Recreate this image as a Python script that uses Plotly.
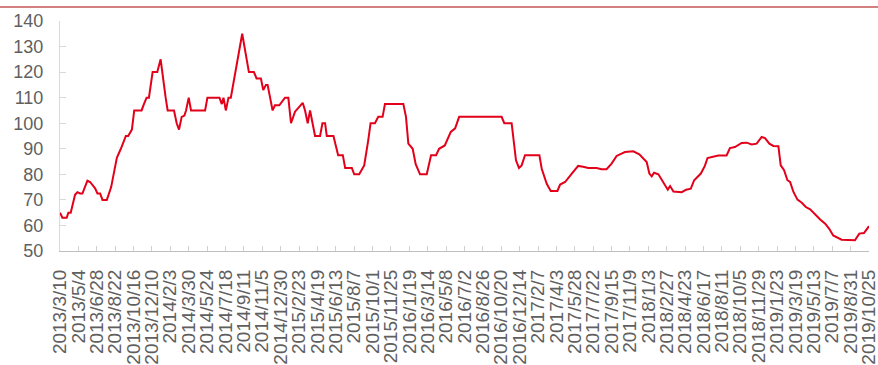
import pandas as pd
import plotly.graph_objects as go

# Observation dates and price index values
dates = [
    "2013-03-10", "2013-03-17", "2013-03-30", "2013-04-04", "2013-04-11", "2013-04-24", "2013-05-01",
    "2013-05-09", "2013-05-16", "2013-05-31", "2013-06-08", "2013-06-18", "2013-06-23", "2013-06-30",
    "2013-07-08", "2013-07-15", "2013-07-28", "2013-08-10", "2013-08-19", "2013-08-27", "2013-09-08",
    "2013-09-23", "2013-09-30", "2013-10-11", "2013-10-18", "2013-11-09", "2013-11-16", "2013-11-24",
    "2013-12-01", "2013-12-12", "2013-12-26",
    "2014-01-05", "2014-01-20", "2014-01-26", "2014-02-14", "2014-02-22", "2014-03-01", "2014-03-09",
    "2014-03-17", "2014-03-22", "2014-03-30", "2014-04-06", "2014-05-18", "2014-05-25", "2014-06-30",
    "2014-07-07", "2014-07-12", "2014-07-19", "2014-07-27", "2014-08-03", "2014-09-06", "2014-09-26",
    "2014-10-11", "2014-10-19", "2014-11-01", "2014-11-08", "2014-11-16", "2014-11-21", "2014-12-06",
    "2014-12-13", "2014-12-26",
    "2015-01-12", "2015-01-22", "2015-01-30", "2015-02-11", "2015-02-21", "2015-03-06", "2015-03-13",
    "2015-03-21", "2015-03-28", "2015-04-12", "2015-04-27", "2015-05-04", "2015-05-12", "2015-05-17",
    "2015-06-06", "2015-06-20", "2015-07-04", "2015-07-11", "2015-07-31", "2015-08-07", "2015-08-22",
    "2015-08-31", "2015-09-06", "2015-09-18", "2015-09-25", "2015-10-08", "2015-10-18", "2015-10-31",
    "2015-11-07",
    "2016-01-01", "2016-01-09", "2016-01-16", "2016-01-29", "2016-02-07", "2016-02-20", "2016-03-11",
    "2016-03-24", "2016-04-08", "2016-04-17", "2016-05-04", "2016-05-22", "2016-06-04", "2016-06-16",
    "2016-10-21", "2016-10-29", "2016-11-20", "2016-11-25", "2016-12-03", "2016-12-12", "2016-12-20",
    "2016-12-30",
    "2017-02-11", "2017-02-18", "2017-03-05", "2017-03-17", "2017-04-06", "2017-04-14", "2017-04-29",
    "2017-05-19", "2017-06-07", "2017-06-22", "2017-07-07", "2017-08-01", "2017-08-16", "2017-08-31",
    "2017-09-15", "2017-09-30", "2017-10-12", "2017-10-25", "2017-11-19", "2017-12-07", "2017-12-29",
    "2018-01-06", "2018-01-13", "2018-01-20", "2018-02-02", "2018-02-17", "2018-03-02", "2018-03-09",
    "2018-03-19", "2018-04-13", "2018-04-26", "2018-05-10", "2018-05-20", "2018-06-09", "2018-06-21",
    "2018-06-29", "2018-07-16", "2018-07-31", "2018-08-25", "2018-09-04", "2018-09-19", "2018-10-09",
    "2018-10-24", "2018-11-08", "2018-11-23", "2018-12-08", "2018-12-18", "2018-12-31",
    "2019-01-12", "2019-01-27", "2019-02-03", "2019-02-13", "2019-02-23", "2019-03-03", "2019-03-13",
    "2019-03-25", "2019-04-07", "2019-04-19", "2019-05-02", "2019-05-17", "2019-06-01", "2019-06-16",
    "2019-06-28", "2019-07-10", "2019-07-25", "2019-08-04", "2019-09-13", "2019-09-26", "2019-10-10",
    "2019-10-25",
]

values = [
    65, 63, 63, 65, 65, 72, 73,
    72.5, 72.5, 77.5, 77, 75, 74.5, 72.5,
    72.5, 70, 70, 75, 82, 86.5, 90,
    95, 95, 97.5, 105, 105, 107.5, 110,
    110, 120, 120,
    125, 110, 105, 105, 100, 97.5, 102.5,
    103, 105, 110, 105, 105, 110, 110,
    107.5, 110, 105, 110, 110, 135, 120,
    120, 117.5, 117.5, 113, 115, 115, 105,
    107, 107,
    110, 110, 100, 104.5, 106, 108, 105,
    100, 105, 95, 95, 100, 100, 95,
    95, 87.5, 87.5, 82.5, 82.5, 80, 80,
    82.5, 83.5, 93.3, 100, 100, 102.5, 102.5,
    107.5,
    107.5, 102.5, 92, 90, 84, 80, 80,
    87.5, 87.5, 90, 91.3, 96.6, 98, 102.5,
    102.5, 100, 100, 94.6, 85.5, 82.5, 83.5,
    87.5,
    87.5, 82.2, 76.3, 73.5, 73.5, 76, 77,
    80.3, 83.3, 83, 82.5, 82.5, 82, 82,
    84.2, 87.2, 87.8, 88.7, 89, 87.8, 84.8,
    80.3, 79.2, 80.6, 80, 77, 74, 75.4,
    73.3, 73, 74, 74.4, 77.7, 80.3, 83.3,
    86.4, 86.8, 87.4, 87.4, 90.3, 90.7, 92.3,
    92.4, 91.7, 92, 94.6, 94.2, 92,
    91.1, 91, 83.5, 81.6, 77.7, 77, 73.1,
    70.1, 68.9, 67.2, 66.3, 64.2, 62.3, 60.7,
    58.7, 56.1, 55.1, 54.4, 54.2, 56.8, 57,
    59.7,
]

# Axis tick labels (every 55 days)
tick_labels = [
    "2013/3/10", "2013/5/4", "2013/6/28", "2013/8/22", "2013/10/16", "2013/12/10",
    "2014/2/3", "2014/3/30", "2014/5/24", "2014/7/18", "2014/9/11", "2014/11/5", "2014/12/30",
    "2015/2/23", "2015/4/19", "2015/6/13", "2015/8/7", "2015/10/1", "2015/11/25",
    "2016/1/19", "2016/3/14", "2016/5/8", "2016/7/2", "2016/8/26", "2016/10/20", "2016/12/14",
    "2017/2/7", "2017/4/3", "2017/5/28", "2017/7/22", "2017/9/15", "2017/11/9",
    "2018/1/3", "2018/2/27", "2018/4/23", "2018/6/17", "2018/8/11", "2018/10/5", "2018/11/29",
    "2019/1/23", "2019/3/19", "2019/5/13", "2019/7/7", "2019/8/31", "2019/10/25",
]
y_ticks = list(range(50, 141, 10))

x = pd.to_datetime(dates)
tick_vals = pd.to_datetime(tick_labels, format="%Y/%m/%d")
# pad the date range by an hour on each side so the end labels are kept
x_range = [tick_vals[0] - pd.Timedelta(hours=1), tick_vals[-1] + pd.Timedelta(hours=1)]

W, H = 878, 365
ML, MR, MT, MB = 60, 9, 21, 114
plot_w = W - ML - MR
plot_h = H - MT - MB

fig = go.Figure()
fig.add_trace(go.Scatter(
    x=x, y=values, mode="lines",
    line=dict(color="#E2001A", width=2),
    hoverinfo="skip", showlegend=False,
))

font = dict(family="Liberation Sans, Arial, sans-serif", color="#5F5F5F")

fig.update_layout(
    width=W, height=H,
    margin=dict(l=ML, r=MR, t=MT, b=MB),
    paper_bgcolor="white", plot_bgcolor="white",
    font=font,
    xaxis=dict(
        type="date",
        range=x_range,
        tickmode="array", tickvals=tick_vals, ticktext=tick_labels,
        tickangle=-90, tickfont=dict(size=19, **font),
        ticks="inside", ticklen=5, tickcolor="#D0D0D0", tickwidth=1,
        showline=True, linecolor="#BFBFBF", linewidth=1,
        showgrid=False, zeroline=False,
        ticklabelstandoff=10, automargin=False,
        ticklabeloverflow="allow",
    ),
    yaxis=dict(
        range=[50, 140],
        tickmode="array", tickvals=y_ticks,
        tickfont=dict(size=18, **font),
        ticks="inside", ticklen=6, tickcolor="#D9D9D9", tickwidth=1,
        showline=True, linecolor="#D9D9D9", linewidth=1,
        showgrid=False, zeroline=False,
        ticklabelstandoff=12, automargin=False,
    ),
    shapes=[dict(
        type="line", xref="paper", yref="paper",
        x0=-ML / plot_w, x1=(W - ML) / plot_w,
        y0=(H - MB - 7) / plot_h, y1=(H - MB - 7) / plot_h,
        line=dict(color="#A50000", width=1),
    )],
)

fig.write_html("out.html")
